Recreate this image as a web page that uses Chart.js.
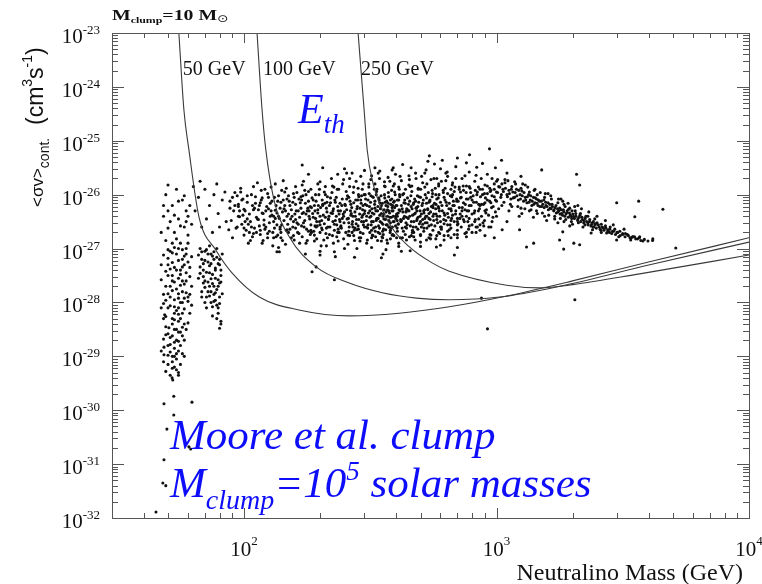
<!DOCTYPE html>
<html>
<head>
<meta charset="utf-8">
<script src="https://cdn.jsdelivr.net/npm/chart.js@4.4.1/dist/chart.umd.min.js"></script>
<style>
  html, body { margin: 0; padding: 0; background: #fff; }
  canvas { display: block; }
</style>
</head>
<body>
<canvas id="chart" width="762" height="584"></canvas>
<script>
// --- values: [neutralino mass (GeV), log10 <sigma v>] ---
const lowColumn = [
  [50,-25.82],[49,-26.0],[52,-26.2],[54,-25.9],[57,-26.1],[59,-26.3],[48,-26.4],[51,-26.5],[55,-26.45],[58,-26.6],
  [53,-26.7],[49,-26.85],[56,-26.9],[60,-26.75],[51,-27.05],[54,-27.1],[57,-27.2],[50,-26.3],[47,-26.7],[59,-27.0],
  [61,-26.2],[62,-26.55],[50,-27.3],[53,-27.35],[56,-27.4],[58,-27.3],[52,-27.5],[55,-27.55],[59,-27.6],[49,-27.7],
  [54,-27.75],[57,-27.8],[51,-27.9],[53,-27.95],[56,-28.0],[60,-27.9],[50,-28.1],[54,-28.15],[57,-28.2],[52,-28.3],
  [55,-28.35],[49,-28.45],[53,-28.5],[56,-28.55],[51,-28.65],[54,-28.7],[50,-28.8],[53,-28.85],[55,-28.9],[52,-29.0],
  [54,-29.05],[50,-29.15],[53,-29.2],[48,-28.3],[47,-28.9],[48,-29.1],[55,-29.3],[51,-29.35],[52,-27.6],[57,-28.0],
  [58,-28.4],[50,-27.5],[52.2,-29.44],[52.7,-29.74],[48.2,-29.88],[62.2,-29.85],[52.7,-30.09],[49.5,-30.35],
  [60.5,-30.68],[61.5,-30.72],[48.2,-30.92],[47.7,-31.35],[49,-31.4],[44.8,-31.89],[51.9,-29.4],[55,-29.35],
  [48.5,-28.23],[50.4,-28.47],[48.2,-28.83],[48.2,-28.97],
  [48,-27.12],[50,-27.18],[52,-27.08],[55,-27.22],[58,-27.14],[60,-27.25],[49,-27.42],[51,-27.38],[53,-27.62],[56,-27.48],
  [58,-27.66],[61,-27.52],[47,-27.58],[50,-27.84],[52,-27.78],[55,-27.92],[57,-27.6],[59,-27.82],[48,-28.02],[51,-28.06],
  [53,-28.2],[55,-28.1],[58,-28.12],[49,-28.26],[52,-28.4],[54,-28.5],[56,-28.3],[50,-28.58],[52,-28.62],[55,-28.72],
  [48,-28.68],[51,-28.92],[53,-29.0],[50,-28.98],[52,-29.1],[54,-29.25],[49,-29.28],[56,-28.8],[57,-28.46],[53,-28.08],
  [50,-26.62],[53,-26.38],[55,-26.12],[58,-26.02],[52,-26.9],[56,-26.58],[60,-26.4],[48,-26.2],[54,-26.82],[59,-26.5],
  [59,-27.1],[61,-27.35],[62,-27.7],[60,-27.98],[61,-28.2],[59,-28.5],[58,-28.7],[57,-28.95],[56,-29.15],[58,-29.0],
  [60,-28.38],[62,-28.05],[61,-27.85],[59,-27.45],[57,-27.02],[60,-26.9],[62,-27.15],[55,-27.0],[53,-26.98],[50,-27.02],
  [47,-27.3],[48,-27.85],[47,-28.1],[49,-28.6],[51,-28.78],[53,-28.32],[55,-28.55],[57,-28.62],[54,-28.95],[52,-29.22],
  [53,-28.74],[55,-28.22],[51,-27.7],[49,-27.96],[56,-27.68],[58,-27.92],[54,-27.4],[52,-27.26],[57,-27.34],[55,-27.84]
];
const secondColumn = [
  [67,-27.0],[70,-27.05],[74,-27.1],[78,-27.0],[68,-27.2],[72,-27.25],[76,-27.2],[80,-27.3],[69,-27.4],[73,-27.45],
  [77,-27.4],[81,-27.5],[70,-27.6],[75,-27.65],[79,-27.7],[72,-27.8],[76,-27.85],[80,-27.9],[74,-28.0],[78,-28.05],
  [71,-28.1],[79,-28.2],[81,-28.35],[81,-28.4],[66,-27.55],[73,-26.95],[77,-27.55],[75,-28.25],[68,-27.8],
  [66,-27.12],[68,-27.06],[70,-27.22],[72,-27.1],[74,-27.28],[76,-27.06],[78,-27.16],[80,-27.2],[67,-27.34],[69,-27.52],
  [71,-27.44],[73,-27.32],[75,-27.48],[77,-27.36],[79,-27.58],[81,-27.4],[70,-27.72],[72,-27.62],[74,-27.8],[76,-27.7],
  [78,-27.76],[80,-27.64],[71,-27.9],[73,-27.88],[77,-27.96],[79,-28.1],[75,-28.08],[80,-28.02],[69,-27.28],[82,-27.1],
  [67,-27.46],[69,-27.64],[71,-27.02],[73,-27.7],[75,-27.14],[77,-27.82],[79,-27.28],[81,-27.62],[82,-27.84],[68,-27.9],
  [70,-28.0],[76,-27.98],[78,-28.3],[80,-28.48],[74,-27.56]
];
const mainBand = [
  [63,-25.85],[66,-26.05],[70,-25.9],[73,-26.2],[76,-26.0],[79,-26.35],[82,-26.1],[85,-26.5],[88,-26.25],[64,-26.3],
  [68,-26.6],[71,-26.45],[75,-26.7],[80,-26.6],[84,-25.95],[87,-26.65],[78,-25.8],[90,-26.05],[67,-25.75],
  [92,-26.2],[95,-26.4],[98,-26.1],[101,-26.3],[104,-26.55],[107,-26.0],[110,-26.25],[113,-26.45],[116,-26.15],[119,-26.35],
  [122,-26.6],[125,-26.05],[128,-26.3],[131,-26.5],[134,-26.2],[137,-26.4],[140,-26.7],[143,-26.1],[146,-26.3],[149,-26.55],
  [94,-26.6],[100,-26.75],[106,-26.85],[112,-26.7],[118,-26.9],[124,-26.8],[130,-26.95],[136,-26.75],[142,-26.85],[148,-26.65],
  [97,-25.95],[109,-25.85],[121,-25.9],[133,-25.8],[145,-25.95],[103,-26.45],[115,-26.2],[127,-26.4],[139,-26.25],[96,-26.3],
  [152,-26.2],[155,-26.4],[158,-26.05],[161,-26.3],[164,-26.55],[167,-26.15],[170,-26.35],[173,-26.6],[176,-26.0],[179,-26.25],
  [182,-26.45],[185,-26.7],[188,-26.1],[191,-26.3],[194,-26.5],[197,-26.2],[200,-26.4],[204,-26.65],[208,-25.95],[212,-26.25],
  [216,-26.45],[220,-26.15],[224,-26.35],[228,-26.55],[232,-26.05],[236,-26.3],[240,-26.5],[244,-26.2],[248,-26.4],[154,-26.8],
  [166,-26.9],[178,-26.85],[190,-26.75],[202,-26.95],[214,-26.8],[226,-26.9],[238,-26.7],[160,-25.85],[172,-25.75],[184,-25.9],
  [196,-25.8],[210,-25.85],[222,-25.7],[234,-25.9],[246,-25.8],[157,-26.5],[169,-26.1],[181,-26.3],[193,-26.6],[205,-26.2],
  [217,-26.4],[229,-26.1],[241,-26.6],[175,-27.1],[230,-27.15],[200,-27.05],
  [252,-26.2],[256,-26.45],[260,-26.05],[264,-26.3],[268,-26.55],[272,-26.15],[276,-26.4],[280,-26.65],[284,-26.0],[288,-26.25],
  [292,-26.5],[296,-26.2],[300,-26.35],[305,-26.6],[310,-26.1],[315,-26.3],[320,-26.5],[325,-26.05],[330,-26.25],[335,-26.45],
  [340,-26.7],[345,-26.15],[350,-26.35],[355,-26.55],[360,-26.0],[365,-26.2],[370,-26.4],[375,-26.6],[380,-26.1],[385,-26.3],
  [390,-26.5],[395,-25.95],[400,-26.2],[405,-26.4],[410,-26.1],[415,-26.3],[258,-26.75],[274,-26.85],[290,-26.8],[306,-26.9],
  [322,-26.75],[338,-26.85],[354,-26.8],[370,-26.9],[386,-26.75],[402,-26.8],[262,-25.85],[278,-25.75],[294,-25.9],[312,-25.8],
  [328,-25.9],[344,-25.7],[362,-25.85],[378,-25.75],[394,-25.8],[412,-25.9],[266,-26.35],[282,-26.1],[298,-26.5],[318,-26.4],
  [334,-26.0],[348,-26.25],[358,-26.45],[374,-26.3],[388,-26.2],[408,-26.55],[270,-26.6],[302,-26.0],[332,-26.6],[364,-26.65],
  [398,-26.4],[255,-25.6],[300,-25.55],[340,-25.6],[390,-25.5],[280,-27.0],[355,-27.1],[420,-27.05],[320,-25.65],
  [425,-26.0],[440,-26.3],[455,-25.85],[470,-26.15],[485,-26.45],[500,-26.05],[515,-26.3],[530,-25.8],[545,-26.1],[560,-26.4],
  [575,-26.0],[590,-26.25],[605,-25.75],[620,-26.05],[640,-26.35],[660,-25.9],[680,-26.2],[700,-26.5],[720,-25.95],[740,-26.15],
  [760,-26.4],[780,-25.85],[800,-26.1],[820,-26.3],[840,-25.95],[860,-26.2],[880,-26.0],[435,-26.6],[470,-26.7],[510,-26.55],
  [550,-26.75],[600,-26.6],[650,-26.65],[700,-26.8],[760,-26.7],[450,-25.65],[520,-25.6],[580,-25.7],[630,-25.6],[690,-25.7],
  [750,-25.65],[820,-25.75],[870,-25.7],[480,-26.25],[560,-26.2],[670,-26.0],[730,-26.3],[790,-26.05],[850,-26.45],[900,-26.15],
  [430,-26.15],[490,-25.9],[540,-26.35]
];
const bandCore = [
  [88,-26.12],[89,-26.48],[91,-26.3],[92,-25.96],[93,-26.62],[95,-26.18],[96,-26.41],[98,-26.55],[99,-26.08],[100,-26.27],
  [102,-26.66],[103,-26.14],[105,-26.36],[106,-26.5],[108,-26.2],[109,-26.72],[111,-26.04],[112,-26.42],[114,-26.28],[115,-26.58],
  [117,-26.1],[118,-26.34],[120,-26.47],[121,-26.64],[123,-26.22],[124,-25.98],[126,-26.52],[127,-26.16],[129,-26.38],[130,-26.7],
  [132,-26.05],[133,-26.29],[135,-26.56],[136,-26.12],[138,-26.44],[139,-26.6],[141,-25.92],[142,-26.32],[144,-26.48],[145,-26.2],
  [147,-26.66],[148,-26.08],[150,-26.36],[90,-26.8],[104,-26.9],[119,-26.85],[134,-26.78],[146,-26.92],[97,-25.88],[113,-25.78],
  [128,-25.86],[143,-25.74],[110,-26.62],[125,-26.26],[140,-26.14],[94,-26.02],[101,-26.5],[116,-26.74],[131,-26.4],[137,-26.98],
  [151,-26.12],[153,-26.45],[154,-26.28],[156,-26.6],[157,-25.98],[159,-26.36],[160,-26.18],[162,-26.52],[163,-26.7],[165,-26.08],
  [166,-26.42],[168,-26.25],[169,-26.58],[171,-26.02],[172,-26.33],[174,-26.48],[175,-26.16],[177,-26.64],[178,-26.3],[180,-25.94],
  [181,-26.4],[183,-26.22],[184,-26.56],[186,-26.06],[187,-26.35],[189,-26.68],[190,-26.2],[192,-26.44],[193,-26.12],[195,-26.58],
  [196,-26.28],[198,-26.0],[199,-26.5],[201,-26.24],[203,-26.62],[204,-26.1],[206,-26.38],[208,-26.54],[209,-26.16],[211,-26.72],
  [213,-26.32],[214,-26.04],[216,-26.46],[218,-26.2],[219,-26.6],[221,-26.34],[223,-25.96],[225,-26.5],[226,-26.26],[228,-26.66],
  [230,-26.14],[232,-26.4],[233,-26.56],[235,-26.22],[237,-25.9],[239,-26.46],[241,-26.3],[243,-26.62],[245,-26.08],[247,-26.36],
  [249,-26.52],[251,-26.18],[253,-26.7],[255,-26.28],[257,-26.02],[259,-26.44],[261,-26.6],[263,-26.12],[265,-26.38],[267,-26.24],
  [269,-26.5],[271,-25.96],[273,-26.66],[275,-26.32],[277,-26.1],[279,-26.46],[281,-26.22],[283,-26.58],[285,-26.04],[287,-26.36],
  [289,-26.7],[291,-26.16],[293,-26.42],[295,-26.28],[297,-26.56],[299,-26.0],[158,-26.84],[176,-26.9],[194,-26.82],[212,-26.95],
  [236,-26.86],[258,-26.92],[286,-26.8],[170,-25.82],[200,-25.76],[224,-25.84],[248,-25.72],[272,-25.86],[296,-25.8],[210,-26.0],
  [301,-26.3],[303,-26.08],[305,-26.48],[307,-26.2],[309,-26.62],[311,-26.34],[313,-25.98],[315,-26.42],[317,-26.14],[319,-26.56],
  [321,-26.26],[323,-26.04],[325,-26.5],[327,-26.36],[329,-26.18],[331,-26.68],[333,-26.3],[335,-25.94],[337,-26.44],[339,-26.22],
  [341,-26.58],[343,-26.1],[345,-26.38],[347,-26.26],[349,-26.02],[351,-26.52],[353,-26.16],[355,-26.4],[357,-26.64],[359,-26.28],
  [361,-26.06],[363,-26.46],[365,-26.32],[367,-26.12],[369,-26.56],[371,-26.22],[373,-25.96],[375,-26.48],[377,-26.34],[379,-26.7],
  [381,-26.18],[383,-26.42],[385,-26.08],[387,-26.6],[389,-26.3],[391,-26.14],[393,-26.5],[395,-26.24],[397,-26.0],[399,-26.44],
  [402,-26.36],[405,-26.1],[408,-26.54],[411,-26.28],[414,-26.04],[417,-26.46],[420,-26.2],[423,-26.62],[426,-26.32],[429,-25.98],
  [432,-26.4],[435,-26.16],[438,-26.52],[441,-26.26],[444,-26.06],[447,-26.44],[450,-26.3],[453,-26.12],[456,-26.58],[459,-26.22],
  [462,-25.94],[465,-26.38],[468,-26.18],[471,-26.5],[474,-26.08],[477,-26.34],[480,-26.6],[483,-26.24],[486,-26.02],[489,-26.42],
  [492,-26.14],[495,-26.54],[498,-26.3],[501,-25.9],[504,-26.36],[507,-26.2],[510,-26.46],[513,-26.1],[516,-26.62],[519,-26.28],
  [522,-26.0],[525,-26.4],[528,-26.16],[531,-26.52],[534,-26.26],[537,-25.96],[540,-26.44],[544,-26.12],[548,-26.32],[552,-26.56],
  [556,-26.04],[560,-26.24],[564,-26.48],[568,-26.16],[572,-25.88],[576,-26.36],[580,-26.08],[584,-26.52],[588,-26.22],[592,-26.0],
  [596,-26.4],[600,-26.14],[605,-26.6],[610,-26.3],[615,-25.92],[620,-26.34],[625,-26.1],[630,-26.48],[635,-26.2],[640,-25.98],
  [645,-26.42],[650,-26.16],[655,-26.56],[660,-26.26],[665,-26.04],[670,-26.38],[675,-26.12],[680,-26.5],[685,-25.86],[690,-26.3],
  [695,-26.08],[700,-26.44],[320,-26.8],[350,-26.86],[380,-26.82],[410,-26.9],[440,-26.84],[470,-26.78],[500,-26.88],[540,-26.8],
  [580,-26.76],[620,-26.84],[660,-26.8],[330,-25.8],[360,-25.76],[390,-25.84],[420,-25.74],[450,-25.82],[480,-25.7],[510,-25.78],
  [550,-25.72],[590,-25.8],[630,-25.74],[670,-25.78],[315,-26.7],[345,-26.72],[375,-26.6],[405,-26.68],[435,-26.74],[465,-26.66],
  [705,-26.12],[712,-25.9],[718,-26.36],[725,-26.05],[732,-26.24],[738,-25.84],[745,-26.5],[752,-26.18],[758,-25.96],[765,-26.3],
  [772,-26.08],[779,-26.44],[786,-25.88],[793,-26.2],[800,-26.56],[808,-26.02],[816,-26.34],[824,-25.92],[832,-26.14],[840,-26.6],
  [848,-25.86],[856,-26.26],[864,-26.04],[872,-26.4],[880,-25.9],[888,-26.18],[896,-26.48],[904,-26.06],[912,-26.28],[920,-25.84],
  [930,-26.38],[940,-26.12],[950,-25.92],[960,-26.5],[970,-26.22],[980,-26.04],[990,-26.32],[1000,-26.12],[1010,-25.96],[1020,-26.26]
];
const bandDense = [
  [95,-26.22],[99,-26.38],[103,-26.02],[107,-26.6],[111,-26.16],[114,-26.46],[118,-26.06],[122,-26.3],[126,-26.68],[129,-26.12],
  [133,-26.44],[137,-26.02],[141,-26.56],[144,-26.26],[148,-26.4],[152,-26.64],[156,-26.14],[160,-26.46],[164,-26.3],[168,-26.04],
  [172,-26.52],[176,-26.36],[180,-26.12],[184,-26.66],[188,-26.42],[192,-26.0],[196,-26.34],[200,-26.56],[205,-26.18],[210,-26.42],
  [215,-26.6],[220,-26.06],[225,-26.3],[230,-26.48],[235,-26.7],[240,-26.16],[245,-26.44],[250,-26.32],[255,-26.08],[260,-26.52],
  [265,-26.18],[270,-26.4],[275,-26.62],[280,-26.26],[285,-26.46],[290,-26.1],[295,-26.38],[300,-26.6],[131,-26.8],[157,-26.76],
  [183,-26.74],[207,-26.84],[233,-26.78],[262,-26.76],[288,-26.86],[117,-25.92],[147,-25.88],[174,-25.92],[199,-25.9],[227,-25.86],
  [254,-25.94],[283,-25.88],[105,-26.7],[120,-26.56],[135,-26.34],[150,-26.02],[165,-26.72],[185,-26.24],[203,-26.48],[218,-26.74],
  [242,-26.58],[268,-26.7],[292,-26.02],[109,-26.28],[139,-26.64],[162,-25.96],[191,-26.58],[213,-26.14],[238,-26.36],[278,-26.54],
  [302,-26.18],[306,-26.4],[310,-26.56],[314,-26.22],[318,-26.02],[322,-26.34],[326,-26.62],[330,-26.12],[334,-26.48],[338,-26.3],
  [342,-26.06],[346,-26.5],[350,-26.2],[354,-26.68],[358,-26.36],[362,-26.14],[366,-26.56],[370,-26.28],[374,-26.04],[378,-26.42],
  [382,-26.62],[386,-26.24],[390,-26.4],[394,-26.12],[398,-26.58],[403,-26.2],[408,-26.34],[413,-26.0],[418,-26.5],[423,-26.26],
  [428,-26.44],[433,-26.1],[438,-26.32],[443,-26.56],[448,-26.18],[453,-26.4],[458,-26.02],[463,-26.26],[468,-26.6],[473,-26.36],
  [478,-26.12],[483,-26.48],[488,-26.22],[493,-26.04],[498,-26.4],[504,-26.6],[510,-26.16],[516,-26.34],[522,-26.52],[528,-26.06],
  [534,-26.28],[540,-26.14],[546,-26.46],[552,-26.22],[558,-25.98],[564,-26.36],[570,-26.58],[576,-26.18],[582,-26.4],[588,-26.06],
  [594,-26.3],[600,-26.5],[608,-26.2],[616,-25.96],[624,-26.38],[632,-26.14],[640,-26.56],[648,-26.26],[656,-26.02],[664,-26.44],
  [672,-26.2],[680,-25.94],[688,-26.36],[696,-26.12],[704,-26.54],[712,-26.24],[720,-26.06],[730,-26.4],[740,-25.92],[750,-26.28],
  [760,-26.08],[770,-26.5],[780,-26.2],[790,-25.96],[800,-26.36],[812,-26.14],[824,-26.46],[836,-26.0],[848,-26.3],[860,-25.9],
  [872,-26.18],[884,-26.52],[896,-25.98],[908,-26.34],[920,-26.1],[932,-26.6],[944,-25.94],[956,-26.24],[968,-26.42],[980,-25.9],
  [312,-25.86],[336,-25.9],[360,-25.84],[384,-25.92],[410,-25.86],[436,-25.9],[462,-25.84],[490,-25.88],[520,-25.86],[556,-25.92],
  [590,-25.84],[626,-25.88],[668,-25.82],[712,-25.86],[760,-25.84],[324,-26.76],[352,-26.78],[388,-26.74],[424,-26.8],[460,-26.76],
  [500,-26.74],[548,-26.82],[596,-26.72],[644,-26.76],[700,-26.74],[760,-26.78],[830,-26.7],[900,-26.76],[340,-26.44],[372,-26.16],
  [404,-26.48],[444,-26.28],[484,-26.3],[530,-26.4],[574,-26.26],[618,-26.46],[662,-26.3],[716,-26.44],[776,-26.3],[850,-26.18]
];
const bandLower = [
  [100,-26.62],[108,-26.78],[116,-26.66],[124,-26.72],[132,-26.62],[140,-26.8],[150,-26.7],[160,-26.62],[170,-26.78],[180,-26.68],
  [190,-26.86],[200,-26.7],[212,-26.62],[224,-26.76],[236,-26.64],[248,-26.82],[260,-26.68],[272,-26.76],[284,-26.64],[296,-26.72],
  [308,-26.84],[320,-26.66],[332,-26.78],[344,-26.62],[356,-26.74],[368,-26.84],[380,-26.66],[392,-26.76],[404,-26.62],[416,-26.8],
  [428,-26.68],[440,-26.62],[452,-26.78],[464,-26.7],[476,-26.84],[488,-26.64],[500,-26.76],[515,-26.68],[530,-26.62],[545,-26.74],
  [560,-26.66],[575,-26.82],[590,-26.7],[605,-26.64],[620,-26.76],[640,-26.68],[660,-26.62],[680,-26.74],[700,-26.66],[725,-26.6],
  [750,-26.72],[775,-26.64],[800,-26.7],[830,-26.6],[860,-26.66],[890,-26.58],[320,-26.98],[365,-27.02],[410,-26.96],[455,-27.04],
  [500,-26.96],[250,-27.0],[200,-27.12],[600,-26.94],[700,-26.98],[380,-26.52],[420,-26.48],[460,-26.5],[500,-26.5],[540,-26.58],
  [580,-26.46],[620,-26.54],[660,-26.48],[700,-26.56],[740,-26.46],[780,-26.58],[820,-26.5],[860,-26.56],[440,-26.42],[520,-26.44]
];
const bandUpper = [
  [235,-25.62],[262,-25.7],[290,-25.66],[318,-25.72],[345,-25.56],[372,-25.68],[398,-25.62],[425,-25.44],[452,-25.72],[478,-25.6],
  [505,-25.66],[535,-25.38],[565,-25.7],[600,-25.52],[640,-25.66],[690,-25.48],[730,-25.7],[780,-25.58],[830,-25.64],[880,-25.42],
  [920,-25.62],[990,-25.5],[1100,-25.6],[1250,-25.66],[700,-25.32],[610,-25.36],[415,-25.66],[330,-25.5],[250,-25.52],[180,-25.62]
];
const highArc = [
  [900,-25.82],[920,-25.98],[940,-25.88],[960,-26.02],[980,-25.8],[1000,-25.95],[1020,-25.85],[1040,-26.05],[1060,-25.9],[1080,-25.78],
  [1100,-26.0],[1120,-25.92],[1140,-26.08],[1160,-25.95],[1180,-26.05],[1200,-25.9],[1220,-26.1],[1240,-26.0],[1260,-25.93],[1280,-26.12],
  [1300,-26.05],[1320,-26.15],[1340,-26.0],[1360,-26.1],[1380,-26.2],[1400,-26.05],[1420,-26.15],[1440,-26.08],[1460,-26.2],[1480,-26.12],
  [1510,-26.22],[1540,-26.1],[1570,-26.2],[1600,-26.15],[1630,-26.25],[1660,-26.18],[1690,-26.28],[1720,-26.2],[1750,-26.32],[1780,-26.25],
  [1810,-26.35],[1840,-26.28],[1870,-26.22],[1900,-26.33],[1930,-26.27],[1960,-26.38],[1990,-26.3],[2020,-26.4],[2060,-26.35],[2100,-26.45],
  [2140,-26.38],[2180,-26.42],[2220,-26.48],[2260,-26.4],[2300,-26.52],[2340,-26.46],[2380,-26.55],[2420,-26.5],[2460,-26.56],[2500,-26.52],
  [2550,-26.6],[2600,-26.55],[2650,-26.62],[2700,-26.58],[2760,-26.65],[2820,-26.6],[2880,-26.68],[2940,-26.64],[3000,-26.7],[3080,-26.68],
  [3160,-26.74],[3240,-26.72],[3330,-26.76],[3420,-26.8],[3520,-26.78],[3620,-26.82],[3730,-26.85],[3850,-26.83],[3980,-26.86],[4150,-26.85],
  [1000,-25.75],[1050,-25.8],[1150,-25.85],[1250,-25.88],[1350,-25.95],[1450,-26.0],[1550,-26.05],[1650,-26.08],[1750,-26.15],[1850,-26.18],
  [1950,-26.25],[2050,-26.3],[2150,-26.35],[2300,-26.4],[2450,-26.45],
  [950,-26.15],[1050,-26.2],[1150,-26.22],[1250,-26.25],[1350,-26.3],[1450,-26.35],[1550,-26.4],[1700,-26.45],[1850,-26.5],[2000,-26.55],
  [2200,-26.6],[2400,-26.65],[2600,-26.7],[900,-26.3],[1000,-26.4],[1100,-26.5],[950,-26.6],
  [1030,-25.86],[1045,-26.0],[1065,-25.94],[1085,-25.88],[1105,-26.04],[1125,-25.98],[1145,-25.9],[1165,-26.06],[1185,-25.96],[1205,-26.02],
  [1225,-25.92],[1245,-26.08],[1265,-26.02],[1285,-25.96],[1305,-26.1],[1325,-26.04],[1345,-26.14],[1365,-26.02],[1385,-26.12],[1405,-26.18],
  [1425,-26.06],[1445,-26.16],[1465,-26.1],[1485,-26.22],[1505,-26.12],[1525,-26.18],[1545,-26.24],[1565,-26.14],[1585,-26.22],[1605,-26.28],
  [1625,-26.18],[1645,-26.26],[1665,-26.22],[1685,-26.3],[1705,-26.24],[1725,-26.34],[1745,-26.26],[1765,-26.3],[1785,-26.36],[1805,-26.28],
  [1825,-26.38],[1845,-26.32],[1865,-26.4],[1885,-26.36],[1905,-26.3],[1925,-26.42],[1945,-26.34],[1965,-26.4],[1985,-26.44],[2005,-26.36],
  [2035,-26.44],[2065,-26.4],[2095,-26.48],[2125,-26.42],[2155,-26.5],[2185,-26.46],[2215,-26.52],[2245,-26.44],[2275,-26.5],[2305,-26.56],
  [2335,-26.5],[2365,-26.58],[2395,-26.52],[2425,-26.6],[2455,-26.54],[2485,-26.62],[2530,-26.56],[2575,-26.64],[2620,-26.6],[2665,-26.66],
  [2710,-26.62],[2760,-26.68],[2810,-26.64],[2860,-26.72],[2910,-26.68],[2960,-26.74],[3020,-26.7],[3090,-26.76],[3160,-26.72],[3230,-26.78],
  [3300,-26.74],[3380,-26.8],[3460,-26.78],[3560,-26.82],[3680,-26.8],[3800,-26.86],[1120,-26.3],[1260,-26.35],[1400,-26.42],[1580,-26.48],
  [1750,-26.52],[1950,-26.58],[1080,-25.72],[1180,-25.76],[1300,-25.82],[1420,-25.9],[1600,-25.98],[1800,-26.08],[2100,-26.2],[1230,-26.4]
];
const arcSpread = [
  [960,-25.7],[990,-26.1],[1010,-25.72],[1070,-26.14],[1110,-25.74],[1135,-26.18],[1190,-25.8],[1215,-26.22],[1270,-25.8],[1295,-26.26],
  [1330,-25.86],[1370,-26.28],[1410,-25.92],[1440,-26.3],[1490,-25.96],[1520,-26.34],[1560,-25.98],[1610,-26.38],[1640,-26.02],[1700,-26.4],
  [1760,-26.08],[1790,-26.44],[1830,-26.12],[1880,-26.46],[1920,-26.16],[1980,-26.5],[2040,-26.22],[2110,-26.52],[2170,-26.26],[2240,-26.56],
  [2320,-26.32],[2410,-26.6],[2500,-26.4],[2590,-26.66],[2700,-26.48],[2800,-26.7],[2900,-26.56],[3050,-26.78],[3200,-26.64],[3400,-26.84]
];
const strays = [
  [170,-25.45],[205,-25.5],[542,-25.28],[782,-25.26],[568,-25.43],[938,-25.15],[268,-25.6],[386,-25.54],[459,-25.5],[526,-25.54],
  [638,-25.58],[760,-25.41],[835,-25.49],[1047,-25.36],[1510,-25.54],[2075,-25.62],[2135,-25.82],[2992,-26.15],[3656,-26.12],
  [4560,-26.27],[3530,-26.41],[5130,-26.99],[2043,-27.95],[872,-27.92],[921,-28.49],[681,-27.12],[1315,-26.97],[1403,-26.9],
  [1778,-26.84],[1845,-27.01],[2024,-26.9],[2135,-26.93],[980,-26.8],[1053,-26.65],[1234,-26.65],[1830,-26.69],[2370,-26.71],
  [2730,-26.71],[2990,-26.84],[3470,-26.78],[3690,-26.78],[4160,-26.82],[528,-26.84],[578,-26.97],[350,-27.17],[274,-27.16],
  [228,-27.06],[135,-27.06],[138,-27.06],[193,-27.34],[186,-27.43],[228,-27.58]
];

// threshold curves E_th = 50, 100, 250 GeV
const th50Mass  = [55.2, 57.8, 60.5, 66.3, 77.4, 89.6, 115, 165, 261, 412, 650, 1100, 2000, 4000, 10000];
const th50Log   = [-23, -24.43, -25.17, -26.41, -27.03, -27.45, -27.9, -28.14, -28.25, -28.2, -28.08, -27.88, -27.6, -27.25, -26.8];
const th100Mass = [112.6, 117.9, 122, 131.5, 151, 193, 261, 353, 482, 650, 1028, 1778, 4046, 10000];
const th100Log  = [-23, -24.43, -25.17, -26.1, -26.78, -27.34, -27.64, -27.82, -27.92, -27.95, -27.9, -27.7, -27.3, -26.88];
const th250Mass = [283, 299, 307.5, 322, 376, 452, 558, 650, 1096, 1483, 2004, 3690, 10000];
const th250Log  = [-23, -24.43, -25.17, -25.73, -26.53, -26.97, -27.27, -27.42, -27.68, -27.73, -27.67, -27.47, -27.12];
const thLabels  = ['50 GeV', '100 GeV', '250 GeV'];

// axis ticks
const xTickExps = [2, 3, 4];
const yTickExps = [-23, -24, -25, -26, -27, -28, -29, -30, -31, -32];

// --- helpers ---
const SERIF = '"Liberation Serif", "Times New Roman", serif';
const SANS = '"Liberation Sans", Arial, sans-serif';
const BLUE = '#0d0dfa';
const toPts = arr => arr.map(([m, e]) => ({ x: m, y: Math.pow(10, e) }));
const curvePts = (ms, es) => ms.map((m, i) => ({ x: m, y: Math.pow(10, es[i]) }));

// draws [text, font, dy] runs left to right
const runWidth = (ctx, parts) => parts.reduce((w, [t, f]) => { ctx.font = f; return w + ctx.measureText(t).width; }, 0);
const drawRuns = (ctx, x, y, parts) => {
  let cx = x;
  parts.forEach(([t, f, dy]) => {
    ctx.font = f;
    ctx.fillText(t, cx, y + (dy || 0));
    cx += ctx.measureText(t).width;
  });
};

const dots = { type: 'scatter', pointRadius: 1.55, pointHoverRadius: 0, pointBackgroundColor: '#111', pointBorderWidth: 0, showLine: false };
const curve = { type: 'line', showLine: true, pointRadius: 0, borderColor: '#3a3a3a', borderWidth: 1.1, fill: false, cubicInterpolationMode: 'monotone' };

const decor = {
  id: 'decor',
  afterDatasetsDraw(chart) {
    const { ctx, chartArea: a, scales: { x, y } } = chart;
    ctx.save();
    ctx.strokeStyle = '#555';
    ctx.lineWidth = 1;
    ctx.strokeRect(a.left + 0.5, a.top + 0.5, a.right - a.left, a.bottom - a.top);

    // ticks pointing inward on all four sides
    ctx.beginPath();
    [10, 100, 1000].forEach(d => {
      for (let k = 1; k <= 9; k++) {
        const v = k * d;
        if (v < 30 || v > 10000) continue;
        const px = Math.round(x.getPixelForValue(v)) + 0.5;
        const len = k === 1 ? 10 : 5;
        ctx.moveTo(px, a.bottom); ctx.lineTo(px, a.bottom - len);
        ctx.moveTo(px, a.top); ctx.lineTo(px, a.top + len);
      }
    });
    for (let e = -32; e <= -24; e++) {
      for (let k = 1; k <= 9; k++) {
        const py = Math.round(y.getPixelForValue(k * Math.pow(10, e))) + 0.5;
        const len = k === 1 ? 12 : 6;
        ctx.moveTo(a.left, py); ctx.lineTo(a.left + len, py);
        ctx.moveTo(a.right, py); ctx.lineTo(a.right - len, py);
      }
    }
    ctx.stroke();

    ctx.fillStyle = '#111';
    ctx.textBaseline = 'alphabetic';
    yTickExps.forEach(e => {
      const py = y.getPixelForValue(Math.pow(10, e));
      const parts = [['10', `21px ${SERIF}`, 10], [String(e), `13px ${SERIF}`, 1]];
      drawRuns(ctx, 100 - runWidth(ctx, parts), py, parts);
    });
    xTickExps.forEach(e => {
      const px = x.getPixelForValue(Math.pow(10, e));
      const parts = [['10', `21px ${SERIF}`, 0], [String(e), `13px ${SERIF}`, -11]];
      drawRuns(ctx, px - runWidth(ctx, parts) / 2, 556, parts);
    });
    ctx.font = `24px ${SERIF}`;
    ctx.textAlign = 'right';
    ctx.fillText('Neutralino Mass (GeV)', 743, 580);
    ctx.textAlign = 'left';

    // y title, rotated
    ctx.save();
    ctx.translate(43, 207);
    ctx.rotate(-Math.PI / 2);
    drawRuns(ctx, 0, 0, [
      ['<σv>', `17px ${SANS}`, 0], ['cont.', `14px ${SANS}`, 6], ['  (cm', `23px ${SANS}`, 0],
      ['3', `14px ${SANS}`, -11], ['s', `23px ${SANS}`, 0], ['-1', `14px ${SANS}`, -11], [')', `23px ${SANS}`, 0]
    ]);
    ctx.restore();

    // header, drawn slightly stretched like the original
    ctx.save();
    ctx.translate(112, 20);
    ctx.scale(1.32, 1);
    drawRuns(ctx, 0, 0, [
      ['M', `bold 15px ${SERIF}`, 0], ['clump', `bold 9px ${SERIF}`, 3], ['=10 M', `bold 15px ${SERIF}`, 0], ['⊙', `10px "DejaVu Sans"`, 2]
    ]);
    ctx.restore();

    [[th50Mass[0], 4], [th100Mass[0], 6], [th250Mass[0], 3]].forEach(([m, off], i) => {
      ctx.font = `20px ${SERIF}`;
      ctx.fillText(thLabels[i], x.getPixelForValue(m) + off, 75);
    });

    ctx.fillStyle = BLUE;
    drawRuns(ctx, 298, 123, [['E', `italic 42px ${SERIF}`, 0], ['th', `italic 27px ${SERIF}`, 10]]);
    drawRuns(ctx, 170, 449, [['Moore et al. clump', `italic 43px ${SERIF}`, 0]]);
    drawRuns(ctx, 170, 497, [
      ['M', `italic 43px ${SERIF}`, 0], ['clump', `italic 28px ${SERIF}`, 12], ['=10', `italic 43px ${SERIF}`, 0],
      ['5', `italic 27px ${SERIF}`, -17], [' solar masses', `italic 43px ${SERIF}`, 0]
    ]);
    ctx.restore();
  }
};

new Chart(document.getElementById('chart'), {
  type: 'scatter',
  data: {
    datasets: [
      { ...curve, label: thLabels[0], data: curvePts(th50Mass, th50Log) },
      { ...curve, label: thLabels[1], data: curvePts(th100Mass, th100Log) },
      { ...curve, label: thLabels[2], data: curvePts(th250Mass, th250Log) },
      { ...dots, label: 'low', data: toPts(lowColumn) },
      { ...dots, label: 'second', data: toPts(secondColumn) },
      { ...dots, label: 'band', data: toPts(mainBand) },
      { ...dots, label: 'core', data: toPts(bandCore) },
      { ...dots, label: 'dense', data: toPts(bandDense) },
      { ...dots, label: 'lower', data: toPts(bandLower) },
      { ...dots, label: 'upper', data: toPts(bandUpper) },
      { ...dots, label: 'arc', data: toPts(highArc) },
      { ...dots, label: 'arcSpread', data: toPts(arcSpread) },
      { ...dots, label: 'strays', data: toPts(strays) }
    ]
  },
  options: {
    responsive: false,
    animation: false,
    devicePixelRatio: 1,
    layout: { padding: { left: 112, right: 13, top: 33, bottom: 66 } },
    plugins: { legend: { display: false }, tooltip: { enabled: false } },
    scales: {
      x: { type: 'logarithmic', min: 30, max: 10000, display: false },
      y: { type: 'logarithmic', min: 1e-32, max: 1e-23, display: false }
    }
  },
  plugins: [decor]
});
</script>
</body>
</html>
